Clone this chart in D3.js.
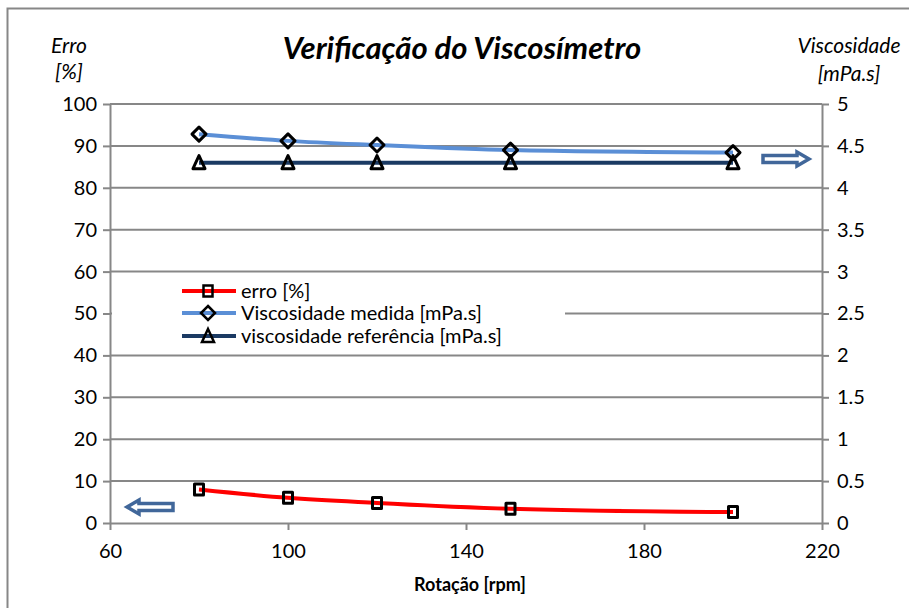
<!DOCTYPE html>
<html>
<head>
<meta charset="utf-8">
<script src="https://cdn.jsdelivr.net/npm/d3@7"></script>
<style>
  body { margin: 0; background: #fff; }
  text { font-family: Lato, "Open Sans", sans-serif; fill: #000; }
</style>
</head>
<body>
<svg id="chart" width="909" height="608"></svg>
<script>
// rotation (rpm)
var rotacao = [80, 100, 120, 150, 200];
var erro = [8.0, 6.0, 4.8, 3.4, 2.6];
var viscMedida = [4.64, 4.56, 4.51, 4.45, 4.42];
var viscReferencia = [4.3, 4.3, 4.3, 4.3, 4.3];

var xTicks = [60, 100, 140, 180, 220];
var yLeftTicks = [0, 10, 20, 30, 40, 50, 60, 70, 80, 90, 100];
var yRightTicks = [0, 0.5, 1, 1.5, 2, 2.5, 3, 3.5, 4, 4.5, 5];

var legendNames = ["erro [%]", "Viscosidade medida [mPa.s]", "viscosidade referência [mPa.s]"];

var svg = d3.select("#chart");
var plotLeft = 110, plotRight = 822, plotTop = 104, plotBottom = 523;

var x = d3.scaleLinear().domain([60, 220]).range([plotLeft, plotRight]);
var yL = d3.scaleLinear().domain([0, 100]).range([plotBottom, plotTop]);
var yR = d3.scaleLinear().domain([0, 5]).range([plotBottom, plotTop]);

var gray = "#878787";

// outer frame
svg.append("rect")
  .attr("x", 7.5).attr("y", 8.5)
  .attr("width", 920).attr("height", 620)
  .attr("fill", "none")
  .attr("stroke", gray)
  .attr("stroke-width", 2)

// gridlines
svg.append("g").selectAll("line")
  .data(yLeftTicks.filter(function(d){ return d > 0; }))
  .enter().append("line")
  .attr("x1", plotLeft).attr("x2", plotRight)
  .attr("y1", function(d){ return yL(d); })
  .attr("y2", function(d){ return yL(d); })
  .attr("stroke", gray).attr("stroke-width", 2)

// axes
function styleAxis(g){
  g.select(".domain").attr("stroke", gray).attr("stroke-width", 2)
  g.selectAll(".tick line").attr("stroke", gray).attr("stroke-width", 2)
  g.selectAll(".tick text").style("font-size", "20px")
}

svg.append("g")
  .attr("transform", "translate(" + plotLeft + ",0)")
  .call(d3.axisLeft(yL).tickValues(yLeftTicks).tickSize(7).tickSizeOuter(0).tickPadding(6))
  .call(styleAxis)

svg.append("g")
  .attr("transform", "translate(" + plotRight + ",0)")
  .call(d3.axisRight(yR).tickValues(yRightTicks).tickSize(7).tickSizeOuter(0).tickPadding(8)
    .tickFormat(function(d){ return d; }))
  .call(styleAxis)

svg.append("g")
  .attr("transform", "translate(0," + plotBottom + ")")
  .call(d3.axisBottom(x).tickValues(xTicks).tickSize(7).tickSizeOuter(0).tickPadding(14))
  .call(styleAxis)

// lines
var series = [
  {name: legendNames[0], vals: erro, y: yL, color: "#ff0000", marker: "square"},
  {name: legendNames[1], vals: viscMedida, y: yR, color: "#5b8fd6", marker: "diamond"},
  {name: legendNames[2], vals: viscReferencia, y: yR, color: "#1b3a63", marker: "triangle"}
];

function markerPath(type){
  if (type == "square") return "M-4.5,-5.5H4.5V5.5H-4.5Z";
  if (type == "diamond") return "M0,-7L7,0L0,7L-7,0Z";
  return "M0,-7L6,6H-6Z";
}

series.forEach(function(s){
  var pts = rotacao.map(function(r, i){ return [x(r), s.y(s.vals[i])]; });
  svg.append("path")
    .attr("d", d3.line().curve(d3.curveMonotoneX)(pts))
    .attr("fill", "none")
    .attr("stroke", s.color)
    .attr("stroke-width", 4)
})

series.forEach(function(s){
  svg.append("g").selectAll("path")
    .data(rotacao)
    .enter().append("path")
    .attr("transform", function(r, i){
      return "translate(" + x(r) + "," + s.y(s.vals[i]) + ")"; })
    .attr("d", markerPath(s.marker))
    .attr("fill", "none")
    .attr("stroke", "#000")
    .attr("stroke-width", 3)
    .attr("stroke-linejoin", "round")
})

// legend
var leg = svg.append("g");
leg.append("rect")
  .attr("x", 112).attr("y", 278)
  .attr("width", 453).attr("height", 72)
  .attr("fill", "#fff")
var legRows = [291, 313, 336];
series.forEach(function(s, i){
  var yy = legRows[i];
  leg.append("line")
    .attr("x1", 182).attr("x2", 236)
    .attr("y1", yy).attr("y2", yy)
    .attr("stroke", s.color).attr("stroke-width", 4)
  leg.append("path")
    .attr("transform", "translate(208," + yy + ")")
    .attr("d", markerPath(s.marker))
    .attr("fill", "none").attr("stroke", "#000").attr("stroke-width", 2.5)
  leg.append("text")
    .attr("x", 241).attr("y", yy + 7)
    .style("font-size", "20px")
    .text(s.name)
})

// arrows
function arrow(cx, cy, dir){
  // block arrow, 49 wide, pointing left (-1) or right (1)
  var p = [[-23, -3.5], [11, -3.5], [11, -7], [23, 0], [11, 7], [11, 3.5], [-23, 3.5]];
  svg.append("path")
    .attr("d", d3.line()(p.map(function(q){ return [cx + dir * q[0], cy + q[1]]; })) + "Z")
    .attr("fill", "#fff")
    .attr("stroke", "#41679a")
    .attr("stroke-width", 3.5)
    .attr("stroke-linejoin", "miter")
}
arrow(150, 507, -1);
arrow(786, 159, 1);

// titles
svg.append("text")
  .attr("x", 462).attr("y", 59)
  .attr("text-anchor", "middle")
  .style("font-size", "31px").style("font-weight", "bold").style("font-style", "italic")
  .text("Verificação do Viscosímetro")

svg.append("text").attr("x", 69).attr("y", 53).attr("text-anchor", "middle")
  .style("font-size", "21px").style("font-style", "italic").text("Erro")
svg.append("text").attr("x", 69).attr("y", 79).attr("text-anchor", "middle")
  .style("font-size", "21px").style("font-style", "italic").text("[%]")
svg.append("text").attr("x", 849).attr("y", 53).attr("text-anchor", "middle")
  .style("font-size", "21px").style("font-style", "italic").text("Viscosidade")
svg.append("text").attr("x", 849).attr("y", 81).attr("text-anchor", "middle")
  .style("font-size", "21px").style("font-style", "italic").text("[mPa.s]")

svg.append("text")
  .attr("x", 470).attr("y", 591)
  .attr("text-anchor", "middle")
  .style("font-size", "18px").style("font-weight", "bold")
  .text("Rotação [rpm]")
</script>
</body>
</html>
